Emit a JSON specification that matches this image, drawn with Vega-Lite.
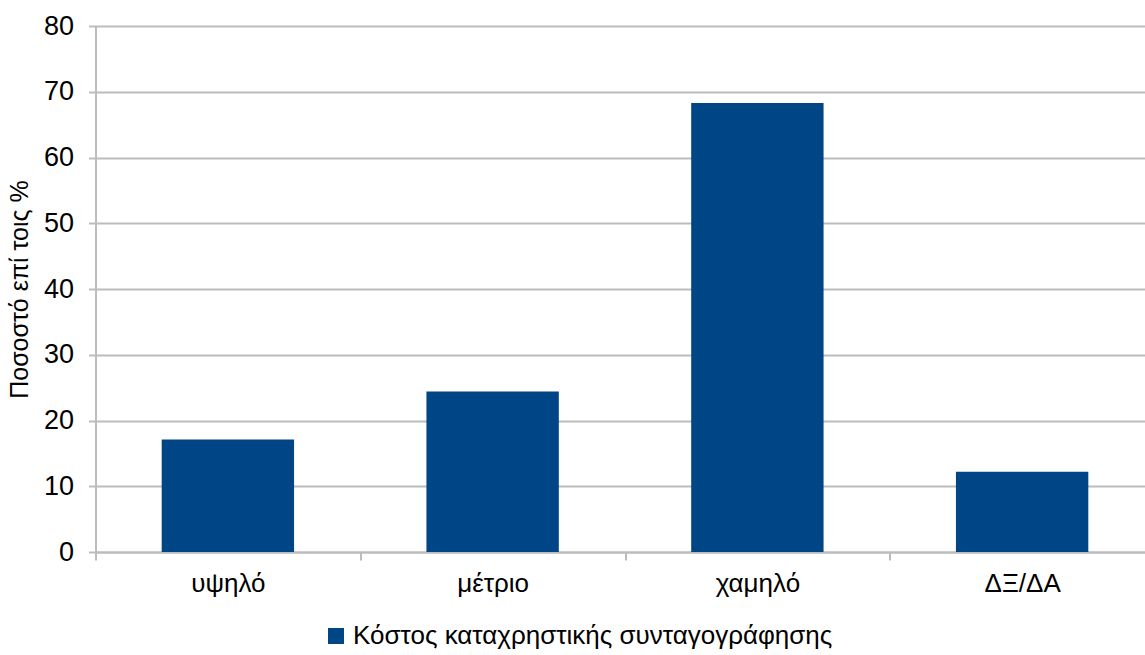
{
  "$schema": "https://vega.github.io/schema/vega-lite/v6.json",
  "width": 1050,
  "height": 526,
  "autosize": {"type": "none"},
  "padding": {"left": 95.5, "top": 26, "right": 0, "bottom": 103},
  "background": "white",
  "config": {
    "font": "Liberation Sans",
    "view": {"stroke": null}
  },
  "data": {
    "values": [
      {"level": "υψηλό", "pct": 17.1, "series": "Κόστος καταχρηστικής συνταγογράφησης"},
      {"level": "μέτριο", "pct": 24.4, "series": "Κόστος καταχρηστικής συνταγογράφησης"},
      {"level": "χαμηλό", "pct": 68.3, "series": "Κόστος καταχρηστικής συνταγογράφησης"},
      {"level": "ΔΞ/ΔΑ", "pct": 12.2, "series": "Κόστος καταχρηστικής συνταγογράφησης"}
    ]
  },
  "mark": {"type": "bar", "width": {"band": 0.5}},
  "encoding": {
    "x": {
      "field": "level",
      "type": "nominal",
      "sort": null,
      "scale": {"range": [0, 1059], "paddingInner": 0, "paddingOuter": 0},
      "axis": {
        "title": null,
        "labelAngle": 0,
        "labelFontSize": 26,
        "labelColor": "#000000",
        "labelPadding": 10,
        "tickBand": "extent",
        "tickSize": 8,
        "tickWidth": 2,
        "tickColor": "#bcbcbc",
        "domainColor": "#bcbcbc",
        "domainWidth": 2,
        "grid": false
      }
    },
    "y": {
      "field": "pct",
      "type": "quantitative",
      "scale": {"domain": [0, 80], "nice": false},
      "axis": {
        "title": "Ποσοστό επί τοις %",
        "titleFontSize": 25,
        "titleFontWeight": "normal",
        "titleColor": "#000000",
        "titlePadding": 11,
        "values": [0, 10, 20, 30, 40, 50, 60, 70, 80],
        "labelFontSize": 27,
        "labelColor": "#000000",
        "labelPadding": 15,
        "tickSize": 7,
        "tickWidth": 2,
        "tickColor": "#bcbcbc",
        "domainColor": "#bcbcbc",
        "domainWidth": 2,
        "grid": true,
        "gridColor": "#bcbcbc",
        "gridWidth": 2
      }
    },
    "color": {
      "field": "series",
      "type": "nominal",
      "scale": {"range": ["#004687"]},
      "legend": {
        "title": null,
        "orient": "none",
        "legendX": 227.5,
        "legendY": 597,
        "symbolType": "square",
        "symbolSize": 256,
        "symbolStrokeWidth": 0,
        "labelFontSize": 26,
        "labelColor": "#000000",
        "labelOffset": 4,
        "labelLimit": 0,
        "padding": 0
      }
    }
  }
}
